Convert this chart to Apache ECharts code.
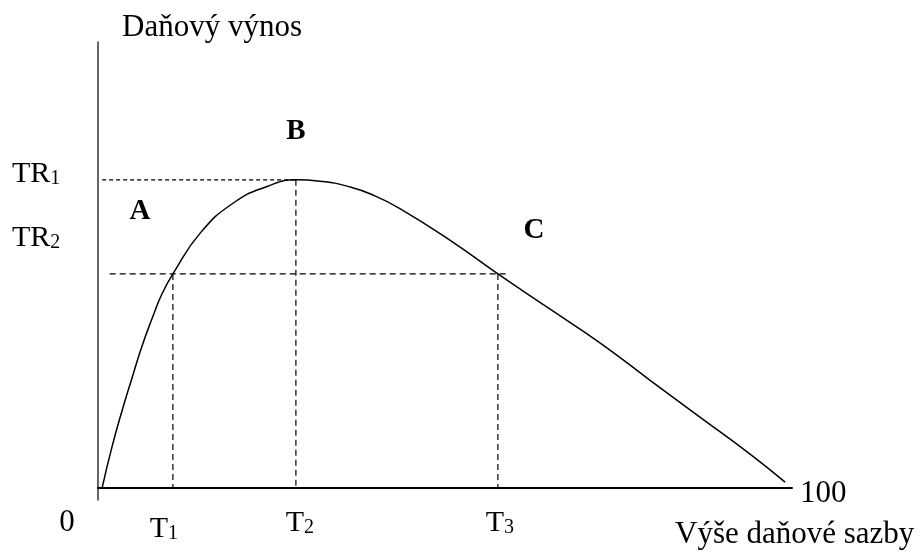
<!DOCTYPE html>
<html>
<head>
<meta charset="utf-8">
<script src="https://cdn.jsdelivr.net/npm/echarts@6/dist/echarts.min.js"></script>
<style>
html,body{margin:0;padding:0;background:#fff;}
#chart{width:921px;height:555px;}
</style>
</head>
<body>
<div id="chart"></div>
<script>
// Lafferova krivka - body
var rate    = [0.6, 2.0, 3.5, 5.0, 6.4, 7.9, 9.3, 10.9, 14.9, 19.7, 24.6, 28.8, 32.3, 36.7, 40.3, 44.0, 51.2, 58.2, 65.8, 73.1, 80.3, 87.6, 94.9, 100];
var revenue = [0,   9.0, 17.3, 24.9, 31.8, 38.1, 43.5, 48.0, 57.2, 63.9, 67.6, 69.1, 68.8, 67.5, 65.5, 62.6, 55.6, 48.0, 40.1, 32.5, 24.2, 15.9, 7.6, 1.3];

var T1 = 10.9, T2 = 28.8, T3 = 58.2;
var TR1 = 69.1, TR2 = 48.0;
var xMax = 101;

var font = 'Liberation Serif';
var chart = echarts.init(document.getElementById('chart'));

function dashed(points, dash){
    return {
        type: 'line',
        data: points,
        symbol: 'none',
        silent: true,
        lineStyle: {color: '#000', width: 1.2, type: dash || [6, 4]}
    };
}

var curve = [];
for (var i = 0; i < rate.length; i++) {
    curve.push([rate[i], revenue[i]]);
}

var option = {
    animation: false,
    grid: {left: 98, right: 129, top: 42, bottom: 55},
    xAxis: {
        type: 'value',
        min: 0,
        max: xMax,
        axisLine: {lineStyle: {color: '#000', width: 2}},
        axisTick: {show: false},
        axisLabel: {show: false},
        splitLine: {show: false}
    },
    yAxis: {
        type: 'value',
        min: -2.7,
        max: 100,
        axisLine: {show: true, lineStyle: {color: '#333', width: 1.5}},
        axisTick: {show: false},
        axisLabel: {show: false},
        splitLine: {show: false}
    },
    series: [
        dashed([[0.6, TR1], [T2, TR1]], [4, 3]),
        dashed([[1.7, TR2], [59.5, TR2]]),
        dashed([[T1, TR2], [T1, 0]]),
        dashed([[T2, TR1], [T2, 0]]),
        dashed([[T3, TR2], [T3, 0]]),
        {
            type: 'line',
            data: curve,
            symbol: 'none',
            smooth: 0.5,
            lineStyle: {color: '#000', width: 1.5}
        }
    ]
};
chart.setOption(option);

var rich = {
    t: {fontFamily: font, fontSize: 30, lineHeight: 30, fill: '#000'},
    s: {fontFamily: font, fontSize: 20, lineHeight: 14, verticalAlign: 'bottom', fill: '#000'}
};

function txt(x, y, s, opts){
    var st = {x: x, y: y, text: s, fontFamily: font, fontSize: 31, fill: '#000', align: 'left', verticalAlign: 'middle', rich: rich};
    for (var k in opts) st[k] = opts[k];
    return {type: 'text', style: st, silent: true};
}

function bold(x, y, s){
    return txt(x, y, s, {fontWeight: 'bold', fontSize: 29, align: 'center'});
}

var p1 = chart.convertToPixel({gridIndex: 0}, [T1, 0]);
var p2 = chart.convertToPixel({gridIndex: 0}, [T2, 0]);
var p3 = chart.convertToPixel({gridIndex: 0}, [T3, 0]);
var q1 = chart.convertToPixel({gridIndex: 0}, [0, TR1]);
var q2 = chart.convertToPixel({gridIndex: 0}, [0, TR2]);
var o  = chart.convertToPixel({gridIndex: 0}, [0, 0]);
var e  = chart.convertToPixel({gridIndex: 0}, [xMax, 0]);

chart.setOption({
    graphic: [
        txt(122, 28, 'Daňový výnos'),
        txt(675, 535, 'Výše daňové sazby'),
        txt(e[0] + 8, o[1] + 6, '100'),
        txt(o[0] - 31, o[1] + 35, '0', {align: 'center'}),
        txt(p1[0] - 9, o[1] + 41, '{t|T}{s|1}', {align: 'center'}),
        txt(p2[0] + 4, o[1] + 35, '{t|T}{s|2}', {align: 'center'}),
        txt(p3[0] + 2, o[1] + 35, '{t|T}{s|3}', {align: 'center'}),
        txt(12, q1[1] - 6, '{t|TR}{s|1}'),
        txt(12, q2[1] - 36, '{t|TR}{s|2}'),
        bold(140, 212, 'A'),
        bold(296, 132, 'B'),
        bold(534, 231, 'C')
    ]
});
</script>
</body>
</html>
